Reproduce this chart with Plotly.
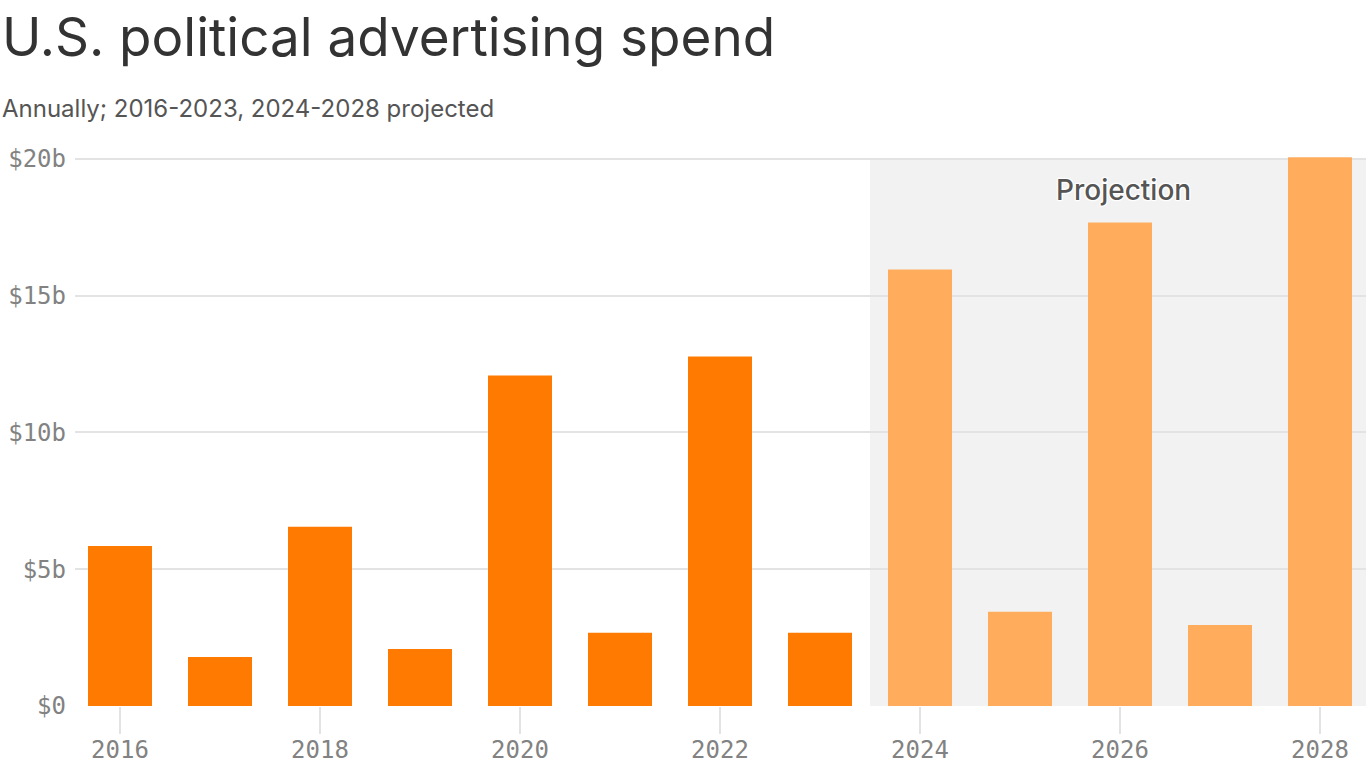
import plotly.graph_objects as go

years_actual = [2016, 2017, 2018, 2019, 2020, 2021, 2022, 2023]
spend_actual = [5.85, 1.79, 6.55, 2.08, 12.08, 2.68, 12.77, 2.68]
years_proj = [2024, 2025, 2026, 2027, 2028]
spend_proj = [15.95, 3.44, 17.67, 2.96, 20.05]
y_ticks = [0, 5, 10, 15, 20]
y_tick_labels = ["$0", "$5b", "$10b", "$15b", "$20b"]
x_ticks = [2016, 2018, 2020, 2022, 2024, 2026, 2028]

title = "U.S. political advertising spend"
subtitle = "Annually; 2016-2023, 2024-2028 projected"

W, H = 1366, 768
ML, MR, MT, MB = 75, 0, 156, 62
plot_w = W - ML - MR
plot_h = H - MT - MB

fig = go.Figure()
fig.add_trace(go.Bar(x=years_actual, y=spend_actual, marker_color="#ff7a00",
                     marker_line_width=0, width=0.64, showlegend=False))
fig.add_trace(go.Bar(x=years_proj, y=spend_proj, marker_color="#ffad5c",
                     marker_line_width=0, width=0.64, showlegend=False))

fig.add_shape(type="rect", xref="x", yref="y", x0=2023.5, x1=2029, y0=0, y1=20,
              fillcolor="#f2f2f2", line_width=0, layer="below")

mono = "DejaVu Sans Mono"
sans = "Inter"

fig.update_layout(
    width=W, height=H,
    margin=dict(l=ML, r=MR, t=MT, b=MB, pad=0, autoexpand=False),
    paper_bgcolor="white", plot_bgcolor="white",
    bargap=0.36,
    xaxis=dict(range=[2015.55, 2028.46], tickvals=x_ticks,
               ticktext=[str(v) for v in x_ticks], automargin=False,
               ticks="outside", ticklen=27, tickwidth=2, tickcolor="#e3e3e3",
               ticklabelstandoff=-5,
               showgrid=False, zeroline=False, showline=False,
               tickfont=dict(family=mono, size=24, color="#828282")),
    yaxis=dict(range=[0, 20.1], tickvals=y_ticks, ticktext=y_tick_labels,
               automargin=False,
               showgrid=True, gridcolor="#e3e3e3", gridwidth=2,
               zeroline=False, showline=False, ticks="", ticklabelstandoff=8,
               tickfont=dict(family=mono, size=24, color="#828282")),
    annotations=[
        dict(text=title, xref="paper", yref="paper",
             x=-ML / plot_w, y=(H - MB - 37) / plot_h,
             xanchor="left", yanchor="middle", showarrow=False,
             font=dict(family=sans, size=53, color="#333333")),
        dict(text=subtitle, xref="paper", yref="paper",
             x=-ML / plot_w, y=(H - MB - 108) / plot_h,
             xanchor="left", yanchor="middle", showarrow=False,
             font=dict(family=sans, size=24, color="#555555")),
        dict(text="Projection", xref="x", yref="y", x=2026.03, y=18.85,
             xanchor="center", yanchor="middle", showarrow=False,
             font=dict(family=sans, size=28, weight=500, color="#555555",
                       shadow="1px 1px 1px #fff, -1px -1px 1px #fff, 1px -1px 1px #fff, -1px 1px 1px #fff, 0 0 3px #fff")),
    ],
)

fig.write_html("out.html")
